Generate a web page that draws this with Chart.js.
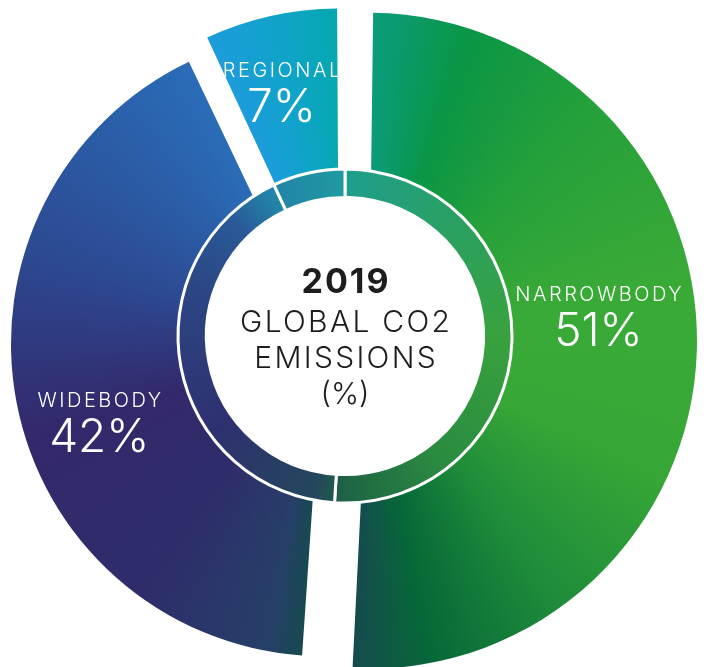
<!DOCTYPE html>
<html>
<head>
<meta charset="utf-8">
<title>2019 Global CO2 Emissions</title>
<script src="https://cdn.jsdelivr.net/npm/chart.js@4.4.1/dist/chart.umd.min.js"></script>
<style>
  html, body { margin: 0; padding: 0; background: #fff; }
  #wrap { position: relative; width: 704px; height: 667px; overflow: hidden; }
  #wrap canvas { position: absolute; left: 0; top: 0; }
</style>
</head>
<body>
<div id="wrap">
  <canvas id="outerChart" width="704" height="667"></canvas>
  <canvas id="innerChart" width="704" height="667"></canvas>
</div>
<script>
// share of 2019 CO2 emissions by aircraft class (%)
const categories = ['NARROWBODY', 'WIDEBODY', 'REGIONAL'];
const shares = [51, 42, 7];
const centerTitle = '2019';
const centerLines = ['GLOBAL CO2', 'EMISSIONS', '(%)'];

const FONT = 'Inter, "Open Sans", sans-serif';

// colour stops going clockwise from 12 o'clock
const outerStops = [
  [0.00, '#0a9c7e'], [0.05, '#0a9645'], [0.12, '#25a03a'], [0.22, '#3aaa37'],
  [0.32, '#36a636'], [0.40, '#1f8c3a'], [0.47, '#066838'], [0.51, '#174a50'],
  [0.53, '#263f68'], [0.60, '#2e2d6b'], [0.70, '#33286b'], [0.80, '#2c4a92'],
  [0.929, '#2a6cb8'], [0.931, '#1c9cdc'], [0.97, '#0fa4c8'], [1.00, '#05a8b0']
];
const innerStops = [
  [0.00, '#1e9e8c'], [0.12, '#2aa062'], [0.25, '#38a23e'], [0.40, '#2a8a40'],
  [0.50, '#1e6445'], [0.53, '#24475c'], [0.65, '#2e3070'], [0.80, '#2c4684'],
  [0.88, '#2a5a98'], [0.92, '#2382a8'], [1.00, '#1e9aa0']
];

function conicFill(stops) {
  return function(context) {
    const chart = context.chart;
    const area = chart.chartArea;
    if (!area) return stops[0][1];
    const cx = (area.left + area.right) / 2;
    const cy = (area.top + area.bottom) / 2;
    const g = chart.ctx.createConicGradient(-Math.PI / 2, cx, cy);
    stops.forEach(s => g.addColorStop(s[0], s[1]));
    return g;
  };
}

// spaced-out text, still centred on x
function spacedText(ctx, text, x, y, spacing) {
  ctx.letterSpacing = spacing + 'px';
  ctx.fillText(text, x + spacing / 2, y);
  ctx.letterSpacing = '0px';
}

// category name + value written inside each outer segment;
// the big segments get their label turned a bit anticlockwise
const maxTurn = 7.5 * Math.PI / 180;
const segmentLabels = {
  id: 'segmentLabels',
  afterDatasetsDraw(chart) {
    const ctx = chart.ctx;
    chart.getDatasetMeta(0).data.forEach((arc, i) => {
      const p = arc.getProps(['x', 'y', 'startAngle', 'endAngle', 'outerRadius']);
      const sweep = p.endAngle - p.startAngle;
      const mid = (p.startAngle + p.endAngle) / 2 - Math.min(maxTurn, sweep * 0.05);
      const r = p.outerRadius * 0.85;
      const x = p.x + Math.cos(mid) * r;
      const y = p.y + Math.sin(mid) * r;
      ctx.save();
      ctx.fillStyle = '#ffffff';
      ctx.textAlign = 'center';
      ctx.textBaseline = 'alphabetic';
      ctx.font = '300 20px ' + FONT;
      spacedText(ctx, categories[i], x, y - 14, 2.5);
      ctx.font = '300 46px ' + FONT;
      ctx.fillText(shares[i] + '%', x, y + 31);
      ctx.restore();
    });
  }
};

// white disc in the hole plus the title text
const centerText = {
  id: 'centerText',
  beforeDatasetsDraw(chart) {
    const meta = chart.getDatasetMeta(0);
    const arc = meta.data[0];
    const ctx = chart.ctx;
    ctx.save();
    ctx.fillStyle = '#ffffff';
    ctx.beginPath();
    ctx.arc(arc.x, arc.y, meta.controller.innerRadius, 0, Math.PI * 2);
    ctx.fill();
    ctx.restore();
  },
  afterDatasetsDraw(chart) {
    const arc = chart.getDatasetMeta(0).data[0];
    const ctx = chart.ctx;
    ctx.save();
    ctx.fillStyle = '#1d1d1b';
    ctx.textAlign = 'center';
    ctx.textBaseline = 'alphabetic';
    ctx.font = 'bold 34px ' + FONT;
    spacedText(ctx, centerTitle, arc.x, arc.y - 43, 2);
    ctx.font = '300 30px ' + FONT;
    centerLines.forEach((line, i) => {
      spacedText(ctx, line, arc.x, arc.y - 4 + i * 36, i === 2 ? 0 : 2.3);
    });
    ctx.restore();
  }
};

function baseOptions(padding) {
  return {
    responsive: false,
    animation: false,
    events: [],
    rotation: 0,
    layout: { padding: padding },
    plugins: { legend: { display: false }, tooltip: { enabled: false } }
  };
}

new Chart(document.getElementById('outerChart'), {
  type: 'doughnut',
  data: {
    labels: categories,
    datasets: [{
      data: shares,
      backgroundColor: conicFill(outerStops),
      borderWidth: 0,
      offset: [104, 80, 76],
      hoverOffset: 0
    }]
  },
  options: Object.assign(baseOptions({ left: 0, right: 18, top: 13, bottom: 0 }), {
    radius: 302,
    cutout: '34%'
  }),
  plugins: [segmentLabels]
});

new Chart(document.getElementById('innerChart'), {
  type: 'doughnut',
  data: {
    labels: categories,
    datasets: [{
      data: shares,
      backgroundColor: conicFill(innerStops),
      borderColor: '#ffffff',
      borderWidth: 3,
      hoverOffset: 0
    }]
  },
  options: Object.assign(baseOptions({ left: 0, right: 14, top: 5, bottom: 0 }), {
    radius: 167,
    cutout: '83%'
  }),
  plugins: [centerText]
});
</script>
</body>
</html>
